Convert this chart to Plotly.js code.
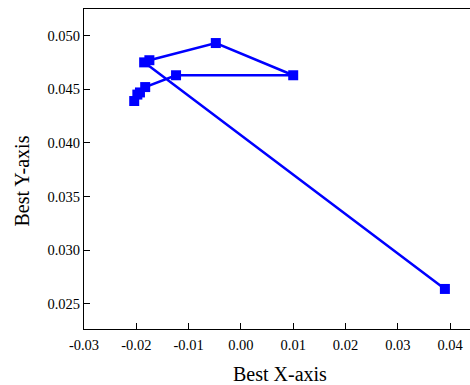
<!DOCTYPE html>
<html>
<head>
<meta charset="utf-8">
<script src="https://cdn.plot.ly/plotly-3.0.1.min.js"></script>
<style>html,body{margin:0;padding:0;background:#fff;}#chart{width:470px;height:385px;}</style>
</head>
<body>
<div id="chart"></div>
<script>
const bestX = [0.0390, -0.0185, -0.0175, -0.0048, 0.0100, -0.0124, -0.0183, -0.0193, -0.0198, -0.0204];
const bestY = [0.0264, 0.0475, 0.0477, 0.0493, 0.0463, 0.0463, 0.0452, 0.0447, 0.0445, 0.0439];
const xTicks = [-0.03, -0.02, -0.01, 0.00, 0.01, 0.02, 0.03, 0.04];
const xTickText = ["-0.03", "-0.02", "-0.01", "0.00", "0.01", "0.02", "0.03", "0.04"];
const yTicks = [0.025, 0.030, 0.035, 0.040, 0.045, 0.050];
const yTickText = ["0.025", "0.030", "0.035", "0.040", "0.045", "0.050"];
const xTitle = "Best X-axis";
const yTitle = "Best Y-axis";

const font = "Liberation Serif, Times New Roman, serif";
Plotly.newPlot("chart", [{
  x: bestX, y: bestY, type: "scatter", mode: "lines+markers",
  line: {color: "#0000FF", width: 2.5},
  marker: {symbol: "square", size: 10, color: "#0000FF"},
  cliponaxis: false
}], {
  width: 470, height: 385,
  margin: {l: 84, r: 0, t: 9, b: 56},
  paper_bgcolor: "#fff", plot_bgcolor: "#fff",
  showlegend: false,
  font: {family: font, color: "#000"},
  xaxis: {
    range: [-0.03, 0.0438], tickvals: xTicks, ticktext: xTickText,
    ticks: "inside", ticklen: 6, tickcolor: "#000", tickwidth: 1,
    ticklabelstandoff: 3,
    showline: true, linecolor: "#000", linewidth: 1, mirror: true,
    showgrid: false, zeroline: false,
    tickfont: {family: font, size: 14.5, color: "#000"}
  },
  yaxis: {
    range: [0.02267, 0.05247], tickvals: yTicks, ticktext: yTickText,
    ticks: "inside", ticklen: 6, tickcolor: "#000", tickwidth: 1,
    showline: true, linecolor: "#000", linewidth: 1, mirror: false,
    showgrid: false, zeroline: false,
    tickfont: {family: font, size: 14.5, color: "#000"}
  },
  annotations: [
    {text: xTitle, xref: "paper", yref: "paper", x: 0.509, y: -0.1406,
     xanchor: "center", yanchor: "middle", showarrow: false,
     font: {family: font, size: 20, color: "#000"}},
    {text: yTitle, xref: "paper", yref: "paper", x: -0.1606, y: 0.461,
     xanchor: "center", yanchor: "middle", showarrow: false, textangle: -90,
     font: {family: font, size: 20, color: "#000"}}
  ]
}, {displayModeBar: false, staticPlot: true});
</script>
</body>
</html>
